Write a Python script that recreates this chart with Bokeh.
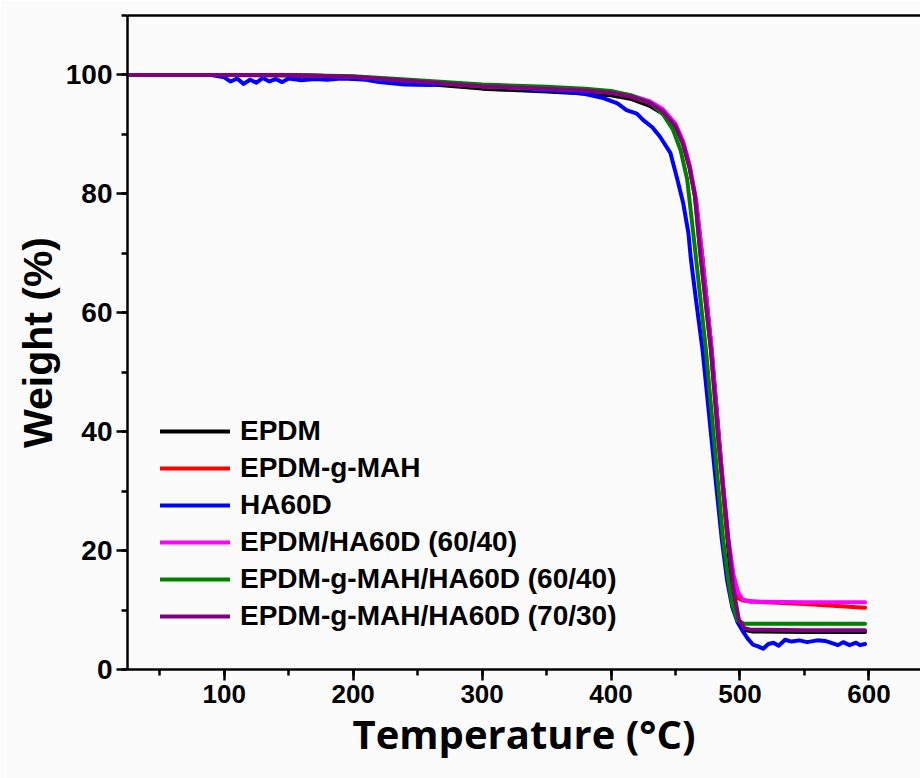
from bokeh.plotting import figure
from bokeh.models import (Legend, LegendItem, LinearAxis, FixedTicker, Range1d,
                          SingleIntervalTicker)
from bokeh.embed import file_html
from bokeh.resources import INLINE

# ---- data ----
series_names = ["EPDM", "EPDM-g-MAH", "HA60D", "EPDM/HA60D (60/40)",
                "EPDM-g-MAH/HA60D (60/40)", "EPDM-g-MAH/HA60D (70/30)"]
series_colors = ["#000000", "#ff0000", "#0000ff", "#ff00ff", "#008000", "#800080"]
x_title = "Temperature (°C)"
y_title = "Weight (%)"

epdm_T = [27, 100, 150, 200, 250, 300, 350, 380, 400, 415, 430, 440, 450, 456, 461, 466,
          471, 478, 484.5, 489, 493, 497, 501, 505, 510, 550, 597]
epdm_W = [100, 100, 99.9, 99.5, 98.6, 97.7, 97.2, 96.9, 96.6, 96.0, 94.8, 93.5, 91.3, 88.5,
          84.5, 78.5, 69, 53.7, 37, 25, 15.5, 9.5, 7.2, 6.6, 6.4, 6.3, 6.3]

mah_T = [27, 100, 150, 200, 250, 300, 350, 380, 400, 415, 430, 440, 450, 456, 461, 465,
         469, 477.5, 483.5, 490, 494, 497.7, 502, 520, 550, 597]
mah_W = [100, 100, 100, 99.7, 98.9, 98.1, 97.7, 97.4, 97.0, 96.4, 95.3, 93.9, 91.4, 88.3,
         84.3, 79.8, 70.5, 53.7, 38, 23, 16, 12.1, 11.6, 11.3, 11.0, 10.4]

ha_T = [27, 90, 100, 105, 110, 115, 120, 125, 130, 135, 140, 145, 150, 160, 170, 180, 190,
        200, 210, 220, 240, 260, 280, 300, 310, 320, 340, 360, 380, 394, 405, 412, 420, 425,
        432, 438, 446, 451, 456, 460, 462, 466, 471, 478, 482, 486, 490, 494, 498, 502, 506,
        510, 514, 518, 522, 526, 530, 535, 540, 546, 552, 560, 566, 572, 576, 580, 585, 590,
        593, 597]
ha_W = [100, 100, 99.6, 98.9, 99.4, 98.5, 99.2, 98.7, 99.5, 98.9, 99.3, 98.8, 99.4, 99.1,
        99.3, 99.2, 99.4, 99.3, 99.2, 98.8, 98.4, 98.3, 98.6, 98.1, 98.3, 98.0, 97.5, 97.3,
        96.8, 96.1, 95.2, 94.1, 93.5, 92.4, 91.2, 89.6, 86.9, 82.8, 78.4, 73.4, 68.9, 62,
        53.7, 38.6, 30, 21.7, 15, 10.5, 8, 6.5, 5.2, 4.2, 3.9, 3.5, 4.3, 4.5, 4.0, 5.0, 4.7,
        4.9, 4.6, 4.9, 4.8, 4.4, 4.1, 4.6, 4.1, 4.5, 4.1, 4.3]

blend_T = [27, 100, 150, 200, 250, 300, 350, 380, 400, 415, 430, 440, 450, 456, 461, 466,
           470, 478, 484, 491, 495, 498.5, 502, 508, 550, 597]
blend_W = [100, 100, 100, 99.7, 99.0, 98.1, 97.7, 97.4, 97.1, 96.6, 95.6, 94.3, 91.8, 88.8,
           84.8, 79, 71, 54, 38, 22, 16, 13, 11.8, 11.4, 11.3, 11.3]

g6040_T = [27, 100, 150, 200, 250, 300, 350, 380, 400, 415, 430, 440, 448, 454, 459, 465,
           473.6, 480.6, 487, 491, 494, 498, 503, 550, 597]
g6040_W = [100, 100, 100, 99.8, 99.1, 98.4, 98.0, 97.7, 97.3, 96.6, 95.3, 93.5, 90.8, 87.3,
           82.5, 71, 53.7, 37, 21.7, 15, 11, 8.3, 7.7, 7.7, 7.7]

g7030_T = [27, 100, 150, 200, 250, 300, 350, 380, 400, 415, 430, 440, 450, 456, 461, 465,
           469, 477.5, 483.5, 491, 495, 499, 503, 508, 550, 597]
g7030_W = [100, 100, 100, 99.7, 98.9, 98.1, 97.7, 97.4, 97.0, 96.4, 95.3, 93.9, 91.4, 88.3,
           84.3, 79.8, 70.5, 53.7, 38, 21.7, 13.5, 8.5, 7.0, 6.7, 6.6, 6.6]

all_T = [epdm_T, mah_T, ha_T, blend_T, g6040_T, g7030_T]
all_W = [epdm_W, mah_W, ha_W, blend_W, g6040_W, g7030_W]

bg = "#fbfbfb"
p = figure(width=920, height=778, x_range=Range1d(25, 640), y_range=Range1d(0, 110),
           output_backend="svg", toolbar_location=None,
           min_border_left=127, min_border_right=0, min_border_top=15, min_border_bottom=109,
           background_fill_color=bg, border_fill_color=bg)
p.grid.visible = False
p.outline_line_color = None

renderers = []
for T, W, c in zip(all_T, all_W, series_colors):
    r = p.line(T, W, line_color=c, line_width=4, line_join="round", line_cap="round")
    renderers.append(r)

# axes styling
p.xaxis.ticker = SingleIntervalTicker(interval=100, num_minor_ticks=2)
p.yaxis.ticker = SingleIntervalTicker(interval=20, num_minor_ticks=2)
for ax in (p.xaxis[0], p.yaxis[0]):
    ax.axis_line_width = 2.5
    ax.major_tick_line_width = 2.5
    ax.minor_tick_line_width = 2.5
    ax.major_tick_out = 11
    ax.major_tick_in = 0
    ax.minor_tick_out = 6
    ax.minor_tick_in = 0
    ax.major_label_text_font = "Liberation Sans"
    ax.major_label_text_font_style = "bold"
    ax.major_label_text_color = "black"
    ax.axis_label_text_font_style = "bold"
    ax.axis_label_text_color = "black"

p.xaxis.major_label_text_font_size = "26px"
p.yaxis.major_label_text_font_size = "28px"
p.xaxis.major_label_standoff = 4
p.yaxis.major_label_standoff = 4
p.xaxis.axis_label = x_title
p.xaxis.axis_label_text_font = "Open Sans"
p.xaxis.axis_label_text_font_size = "40px"
p.xaxis.axis_label_standoff = 0
p.yaxis.axis_label = y_title
p.yaxis.axis_label_text_font = "Liberation Sans"
p.yaxis.axis_label_text_font_size = "41px"
p.yaxis.axis_label_standoff = 2

top_axis = LinearAxis(ticker=FixedTicker(ticks=[]), axis_line_width=2.5,
                      major_label_text_font_size="0px", major_tick_line_color=None,
                      minor_tick_line_color=None, major_label_standoff=0)
p.add_layout(top_axis, "above")

legend = Legend(items=[LegendItem(label=n, renderers=[r]) for n, r in zip(series_names, renderers)],
                location=(33, 37), border_line_color=None, background_fill_alpha=0,
                label_text_font="Liberation Sans", label_text_font_style="bold",
                label_text_font_size="28px", label_text_color="black",
                glyph_width=70, glyph_height=30, label_height=30, spacing=5,
                padding=0, margin=0, label_standoff=10)
p.add_layout(legend)

open("out.html", "w").write(file_html(p, INLINE))
